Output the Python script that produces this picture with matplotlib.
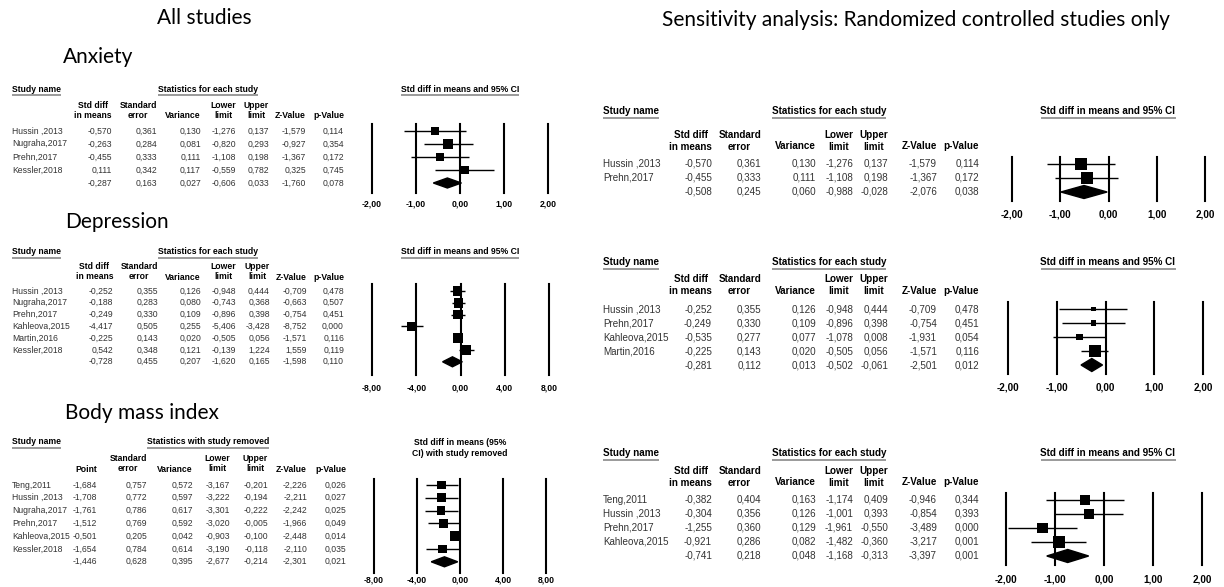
import matplotlib
matplotlib.use("Agg")
import matplotlib.pyplot as plt
import numpy as np

# ---------------- data ----------------
# All studies - Anxiety
anx_all_names = ["Hussin ,2013", "Nugraha,2017", "Prehn,2017", "Kessler,2018"]
anx_all_smd = [-0.570, -0.263, -0.455, 0.111]
anx_all_se = [0.361, 0.284, 0.333, 0.342]
anx_all_var = [0.130, 0.081, 0.111, 0.117]
anx_all_lo = [-1.276, -0.820, -1.108, -0.559]
anx_all_hi = [0.137, 0.293, 0.198, 0.782]
anx_all_z = [-1.579, -0.927, -1.367, 0.325]
anx_all_p = [0.114, 0.354, 0.172, 0.745]
anx_all_pooled = [-0.287, 0.163, 0.027, -0.606, 0.033, -1.760, 0.078]

# All studies - Depression
dep_all_names = ["Hussin ,2013", "Nugraha,2017", "Prehn,2017", "Kahleova,2015", "Martin,2016", "Kessler,2018"]
dep_all_smd = [-0.252, -0.188, -0.249, -4.417, -0.225, 0.542]
dep_all_se = [0.355, 0.283, 0.330, 0.505, 0.143, 0.348]
dep_all_var = [0.126, 0.080, 0.109, 0.255, 0.020, 0.121]
dep_all_lo = [-0.948, -0.743, -0.896, -5.406, -0.505, -0.139]
dep_all_hi = [0.444, 0.368, 0.398, -3.428, 0.056, 1.224]
dep_all_z = [-0.709, -0.663, -0.754, -8.752, -1.571, 1.559]
dep_all_p = [0.478, 0.507, 0.451, 0.000, 0.116, 0.119]
dep_all_pooled = [-0.728, 0.455, 0.207, -1.620, 0.165, -1.598, 0.110]

# All studies - Body mass index (study removed)
bmi_all_names = ["Teng,2011", "Hussin ,2013", "Nugraha,2017", "Prehn,2017", "Kahleova,2015", "Kessler,2018"]
bmi_all_point = [-1.684, -1.708, -1.761, -1.512, -0.501, -1.654]
bmi_all_se = [0.757, 0.772, 0.786, 0.769, 0.205, 0.784]
bmi_all_var = [0.572, 0.597, 0.617, 0.592, 0.042, 0.614]
bmi_all_lo = [-3.167, -3.222, -3.301, -3.020, -0.903, -3.190]
bmi_all_hi = [-0.201, -0.194, -0.222, -0.005, -0.100, -0.118]
bmi_all_z = [-2.226, -2.211, -2.242, -1.966, -2.448, -2.110]
bmi_all_p = [0.026, 0.027, 0.025, 0.049, 0.014, 0.035]
bmi_all_pooled = [-1.446, 0.628, 0.395, -2.677, -0.214, -2.301, 0.021]

# RCT only - Anxiety
anx_rct_names = ["Hussin ,2013", "Prehn,2017"]
anx_rct_smd = [-0.570, -0.455]
anx_rct_se = [0.361, 0.333]
anx_rct_var = [0.130, 0.111]
anx_rct_lo = [-1.276, -1.108]
anx_rct_hi = [0.137, 0.198]
anx_rct_z = [-1.579, -1.367]
anx_rct_p = [0.114, 0.172]
anx_rct_pooled = [-0.508, 0.245, 0.060, -0.988, -0.028, -2.076, 0.038]

# RCT only - Depression
dep_rct_names = ["Hussin ,2013", "Prehn,2017", "Kahleova,2015", "Martin,2016"]
dep_rct_smd = [-0.252, -0.249, -0.535, -0.225]
dep_rct_se = [0.355, 0.330, 0.277, 0.143]
dep_rct_var = [0.126, 0.109, 0.077, 0.020]
dep_rct_lo = [-0.948, -0.896, -1.078, -0.505]
dep_rct_hi = [0.444, 0.398, 0.008, 0.056]
dep_rct_z = [-0.709, -0.754, -1.931, -1.571]
dep_rct_p = [0.478, 0.451, 0.054, 0.116]
dep_rct_pooled = [-0.281, 0.112, 0.013, -0.502, -0.061, -2.501, 0.012]

# RCT only - Body mass index
bmi_rct_names = ["Teng,2011", "Hussin ,2013", "Prehn,2017", "Kahleova,2015"]
bmi_rct_smd = [-0.382, -0.304, -1.255, -0.921]
bmi_rct_se = [0.404, 0.356, 0.360, 0.286]
bmi_rct_var = [0.163, 0.126, 0.129, 0.082]
bmi_rct_lo = [-1.174, -1.001, -1.961, -1.482]
bmi_rct_hi = [0.409, 0.393, -0.550, -0.360]
bmi_rct_z = [-0.946, -0.854, -3.489, -3.217]
bmi_rct_p = [0.344, 0.393, 0.000, 0.001]
bmi_rct_pooled = [-0.741, 0.218, 0.048, -1.168, -0.313, -3.397, 0.001]

ticks_small = [-2, -1, 0, 1, 2]
ticks_large = [-8, -4, 0, 4, 8]

# ---------------- figure ----------------
W, H = 1224, 587
fig = plt.figure(figsize=(W / 100, H / 100), dpi=100)
bg = fig.add_axes([0, 0, 1, 1])
bg.set_xlim(0, W)
bg.set_ylim(H, 0)
bg.axis("off")

TFONT = "Liberation Sans"
BIG = "Lato"
TXT = "#333333"


def fmt3(v):
    return f"{v:.3f}".replace(".", ",")


def fmt2(v):
    return f"{v:.2f}".replace(".", ",")


def solve_tau2(var, vpool):
    v = np.asarray(var, dtype=float)
    target = 1.0 / vpool
    if np.sum(1.0 / v) <= target:
        return 0.0
    lo, hi = 0.0, 100.0
    for _ in range(200):
        mid = 0.5 * (lo + hi)
        if np.sum(1.0 / (v + mid)) > target:
            lo = mid
        else:
            hi = mid
    return 0.5 * (lo + hi)


underlines = []


def draw_panel(P, L):
    fs = L["fs"]
    n = len(P["names"])
    # section headers
    t = bg.text(L["name_x"], L["title_y"], "Study name", fontsize=fs, fontweight="bold",
                ha="left", va="center", family=TFONT, color="black")
    underlines.append(t)
    t = bg.text(L["stat_cx"], L["title_y"], P["stat_title"], fontsize=fs, fontweight="bold",
                ha="center", va="center", family=TFONT, color="black")
    underlines.append(t)
    ft = P["forest_title"]
    if "\n" in ft:
        bg.text(L["forest_cx"], L["title_y"] + L["ftitle_dy"], ft, fontsize=fs, fontweight="bold",
                ha="center", va="center", ma="center", family=TFONT, color="black",
                linespacing=L["ls"])
    else:
        t = bg.text(L["forest_cx"], L["title_y"], ft, fontsize=fs, fontweight="bold",
                    ha="center", va="center", family=TFONT, color="black")
        underlines.append(t)
    # column headers
    hdrs = [P["first_hdr"], "Standard\nerror", "Variance", "Lower\nlimit", "Upper\nlimit", "Z-Value", "p-Value"]
    for x, h in zip(L["cols"], hdrs):
        if "\n" in h:
            bg.text(x, 0.5 * (L["hdr_y1"] + L["hdr_y2"]), h, fontsize=fs, fontweight="bold",
                    ha="right", va="center", ma="center", family=TFONT, color="black",
                    linespacing=L["ls"])
        else:
            bg.text(x, L["hdr_y2"], h, fontsize=fs, fontweight="bold",
                    ha="right", va="center", family=TFONT, color="black")
    # rows
    cols = [P["est"], P["se"], P["var"], P["lo"], P["hi"], P["z"], P["p"]]
    for i in range(n + 1):
        y = L["row_y0"] + i * L["row_step"]
        if i < n:
            bg.text(L["name_x"], y, P["names"][i], fontsize=fs, ha="left", va="center",
                    family=TFONT, color=TXT)
            vals = [c[i] for c in cols]
        else:
            vals = P["pooled"]
        for x, v in zip(L["cols"], vals):
            bg.text(x, y, fmt3(v), fontsize=fs, ha="right", va="center", family=TFONT, color=TXT)

    # forest plot axes
    ax = fig.add_axes([L["fx0"] / W, 1 - L["ly1"] / H, (L["fx1"] - L["fx0"]) / W,
                       (L["ly1"] - L["ly0"]) / H])
    ticks = P["ticks"]
    ax.set_xlim(ticks[0], ticks[-1])
    r_top = (L["ly0"] - L["row_y0"]) / L["row_step"]
    r_bot = (L["ly1"] - L["row_y0"]) / L["row_step"]
    ax.set_ylim(r_bot, r_top)
    ax.axis("off")
    for tk in ticks:
        ax.axvline(tk, color="black", lw=1.5, clip_on=False)
        ax.text(tk, (L["tick_y"] - L["row_y0"]) / L["row_step"], fmt2(tk), fontsize=fs,
                fontweight="bold", ha="center", va="center", family=TFONT, color="black",
                clip_on=False)
    rows = np.arange(n)
    ax.hlines(rows, P["lo"], P["hi"], color="black", lw=1.0, clip_on=False, zorder=2)
    tau2 = solve_tau2(P["var"], P["pooled"][2])
    w = 1.0 / (np.asarray(P["var"]) + tau2)
    side_px = L["sq"] * np.sqrt(w / w.max())
    side_pt = side_px * 72 / 100
    ax.scatter(P["est"], rows, marker="s", s=side_pt ** 2, color="black", zorder=3,
               linewidths=0, clip_on=False)
    pe, _, _, plo, phi = P["pooled"][:5]
    dh = L["dh"] / L["row_step"]
    ax.fill([plo, pe, phi, pe], [n, n - dh, n, n + dh], color="black", zorder=3, clip_on=False)


def panel(names, est, se, var, lo, hi, z, p, pooled, ticks, stat_title, forest_title, first_hdr):
    return dict(names=names, est=est, se=se, var=var, lo=lo, hi=hi, z=z, p=p, pooled=pooled,
                ticks=ticks, stat_title=stat_title, forest_title=forest_title, first_hdr=first_hdr)


EACH = "Statistics for each study"
FT = "Std diff in means and 95% CI"
SD = "Std diff\nin means"

left_common = dict(fs=6.2, name_x=12, stat_cx=208, forest_cx=460, sq=10, dh=5, ls=1.25, ftitle_dy=6)
right_common = dict(fs=7.1, name_x=603, cols=[712, 761, 816, 853, 888, 937, 979], stat_cx=829,
                    forest_cx=1108, sq=12, dh=6.5, ls=1.25, ftitle_dy=6)

L_la = dict(left_common, cols=[112, 157, 201, 236, 269, 306, 344], title_y=89, hdr_y1=105, hdr_y2=116,
            row_y0=131, row_step=13, fx0=372, fx1=548, ly0=124, ly1=193, tick_y=204)
L_ld = dict(left_common, cols=[113, 158, 201, 236, 270, 307, 344], title_y=252, hdr_y1=266, hdr_y2=277,
            row_y0=291, row_step=11.8, fx0=372, fx1=549, ly0=284, ly1=375, tick_y=388)
L_lb = dict(left_common, cols=[97, 147, 193, 230, 268, 307, 346], title_y=442, hdr_y1=458, hdr_y2=469,
            row_y0=485, row_step=12.8, fx0=374, fx1=546, ly0=479, ly1=573, tick_y=580)
L_ra = dict(right_common, title_y=111, hdr_y1=135, hdr_y2=146, row_y0=164, row_step=14,
            fx0=1012, fx1=1205, ly0=157, ly1=201, tick_y=215)
L_rd = dict(right_common, title_y=262, hdr_y1=280, hdr_y2=291, row_y0=309, row_step=14,
            fx0=1008, fx1=1203, ly0=302, ly1=374, tick_y=388)
L_rb = dict(right_common, title_y=453, hdr_y1=471, hdr_y2=482, row_y0=500, row_step=14,
            fx0=1006, fx1=1202, ly0=493, ly1=565, tick_y=580)

draw_panel(panel(anx_all_names, anx_all_smd, anx_all_se, anx_all_var, anx_all_lo, anx_all_hi,
                 anx_all_z, anx_all_p, anx_all_pooled, ticks_small, EACH, FT, SD), L_la)
draw_panel(panel(dep_all_names, dep_all_smd, dep_all_se, dep_all_var, dep_all_lo, dep_all_hi,
                 dep_all_z, dep_all_p, dep_all_pooled, ticks_large, EACH, FT, SD), L_ld)
draw_panel(panel(bmi_all_names, bmi_all_point, bmi_all_se, bmi_all_var, bmi_all_lo, bmi_all_hi,
                 bmi_all_z, bmi_all_p, bmi_all_pooled, ticks_large, "Statistics with study removed",
                 "Std diff in means (95%\nCI) with study removed", "Point"), L_lb)
draw_panel(panel(anx_rct_names, anx_rct_smd, anx_rct_se, anx_rct_var, anx_rct_lo, anx_rct_hi,
                 anx_rct_z, anx_rct_p, anx_rct_pooled, ticks_small, EACH, FT, SD), L_ra)
draw_panel(panel(dep_rct_names, dep_rct_smd, dep_rct_se, dep_rct_var, dep_rct_lo, dep_rct_hi,
                 dep_rct_z, dep_rct_p, dep_rct_pooled, ticks_small, EACH, FT, SD), L_rd)
draw_panel(panel(bmi_rct_names, bmi_rct_smd, bmi_rct_se, bmi_rct_var, bmi_rct_lo, bmi_rct_hi,
                 bmi_rct_z, bmi_rct_p, bmi_rct_pooled, ticks_small, EACH, FT, SD), L_rb)

# big titles
bg.text(204, 18, "All studies", fontsize=15, family=BIG, ha="center", va="center", color="black")
bg.text(916, 20, "Sensitivity analysis: Randomized controlled studies only", fontsize=15, family=BIG,
        ha="center", va="center", color="black")
bg.text(63, 57, "Anxiety", fontsize=15, family=BIG, ha="left", va="center", color="black")
bg.text(65, 222, "Depression", fontsize=15, family=BIG, ha="left", va="center", color="black")
bg.text(65, 413, "Body mass index", fontsize=15, family=BIG, ha="left", va="center", color="black")

# underlines of section headers
fig.canvas.draw()
r = fig.canvas.get_renderer()
for t in underlines:
    bb = t.get_window_extent(renderer=r)
    yline = H - bb.y0 + 1.5
    bg.plot([bb.x0, bb.x1], [yline, yline], color="#9a9a9a", lw=1.4, solid_capstyle="butt")

fig.savefig("out.png", dpi=100)
